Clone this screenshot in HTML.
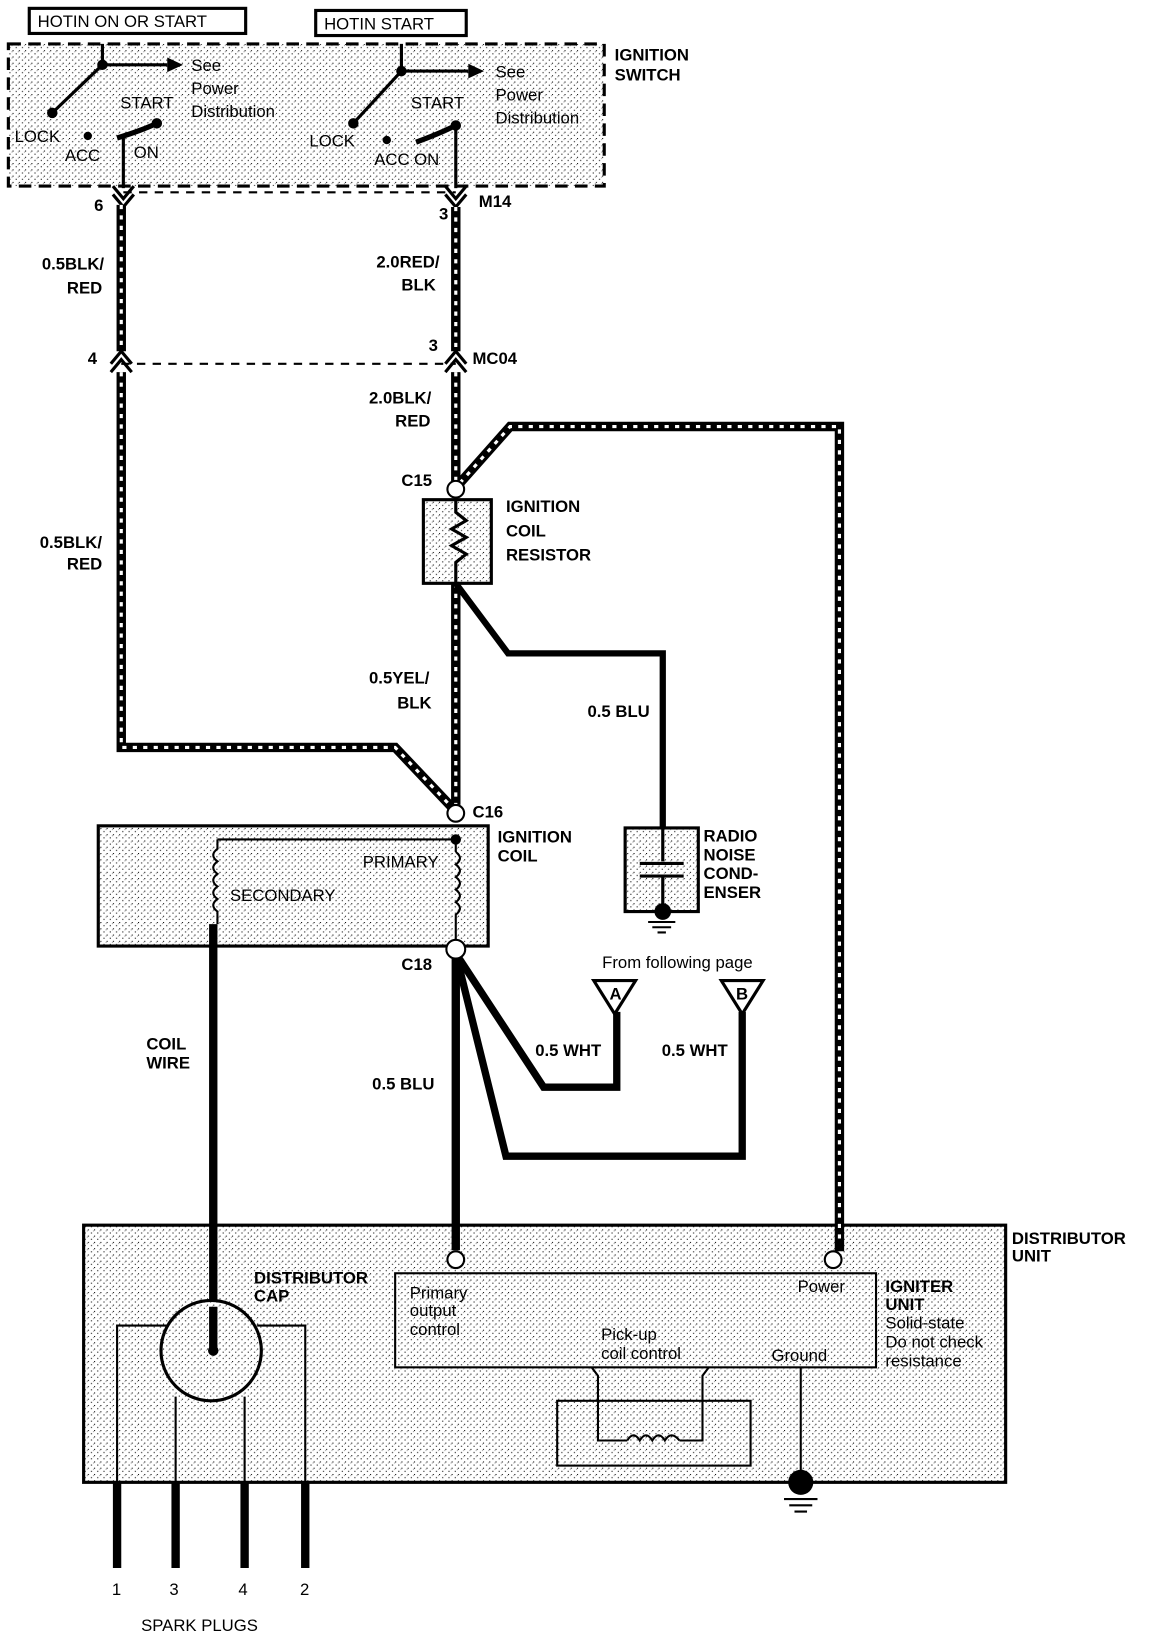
<!DOCTYPE html>
<html><head><meta charset="utf-8"><style>
html,body{margin:0;padding:0;background:#fff}
svg{display:block}
text{font-family:"Liberation Sans",sans-serif;font-weight:bold;font-size:16px;fill:#000}
.n{font-weight:normal}
</style></head><body>
<svg width="1152" height="1636" viewBox="0 0 1102 1565" preserveAspectRatio="none" xmlns="http://www.w3.org/2000/svg">
<defs>
<pattern id="st" width="6" height="6" patternUnits="userSpaceOnUse">
<rect width="6" height="6" fill="#fff"/>
<rect x="0" y="0" width="1" height="1" fill="#000"/>
<rect x="3" y="3" width="1" height="1" fill="#000"/>
<rect x="5" y="1" width="1" height="1" fill="#999"/>
</pattern>
</defs>
<g stroke="#000" fill="none">
<!-- distributor unit (drawn first) -->
<rect x="80" y="1172" width="882" height="246" fill="url(#st)" stroke-width="3"/>
<rect x="378" y="1218" width="460" height="90" fill="url(#st)" stroke-width="2"/>
<rect x="533" y="1340" width="185" height="62" fill="url(#st)" stroke-width="2"/>
<!-- top labels -->
<rect x="28" y="8" width="207" height="24" stroke-width="3"/>
<rect x="302" y="10" width="144" height="24" stroke-width="3"/>
<!-- ignition switch box -->
<rect x="8" y="42" width="570" height="136" fill="url(#st)" stroke-width="3" stroke-dasharray="12 7"/>
<path d="M98 42 V62 H160" stroke-width="3"/>
<path d="M98 62 L50 108" stroke-width="3"/>
<path d="M112 132 Q135 125 150 118" stroke-width="5"/>
<path d="M118 132 V180" stroke-width="3"/>
<path d="M384 42 V68 H448" stroke-width="3"/>
<path d="M384 68 L338 118" stroke-width="3"/>
<path d="M398 136 Q420 128 436 120" stroke-width="5"/>
<path d="M436 120 V180" stroke-width="3"/>
<path d="M118 184 H436" stroke-width="2" stroke-dasharray="8 7"/>
<path d="M116 348 H436" stroke-width="2" stroke-dasharray="8 7"/>
<path d="M108 178 L118 190 L128 178 M108 186 L118 198 L128 186" stroke-width="3"/>
<path d="M426 178 L436 190 L446 178 M426 186 L436 198 L446 186" stroke-width="3"/>
<path d="M106 348 L116 336 L126 348 M106 356 L116 344 L126 356" stroke-width="3"/>
<path d="M426 348 L436 336 L446 348 M426 356 L436 344 L446 356" stroke-width="3"/>
<g stroke-width="9">
<path d="M116 196 V336"/><path d="M116 356 V715 H378 L432 772"/>
<path d="M436 198 V336"/><path d="M436 356 V462"/><path d="M436 558 V770"/>
<path d="M440 462 L488 408 H803 V1197"/>
</g>
<g stroke="#fff" stroke-width="3" stroke-dasharray="4 6">
<path d="M116 196 V336"/><path d="M116 356 V715 H378 L432 772"/>
<path d="M436 198 V336"/><path d="M436 356 V462"/><path d="M436 558 V770"/>
<path d="M440 462 L488 408 H803 V1190"/>
</g>
<rect x="405" y="478" width="65" height="80" fill="url(#st)" stroke-width="3"/>
<path d="M436 474 V490 L446 498 L432 506 L446 514 L432 522 L446 530 L436 538 V558" stroke-width="3"/>
<path d="M436 558 L486 625 H634 V792" stroke-width="6"/>
<rect x="598" y="792" width="70" height="80" fill="url(#st)" stroke-width="3"/>
<path d="M634 792 V824 M612 826 H654 M612 838 H654 M634 838 V872" stroke-width="3"/>
<rect x="94" y="790" width="373" height="115" fill="url(#st)" stroke-width="3"/>
<path d="M208 803 H436 V815" stroke-width="2"/>
<path d="M436 815 q8 6 0 12 q8 6 0 12 q8 6 0 12 q8 6 0 12 q8 6 0 12 V900" stroke-width="2"/>
<path d="M208 803 V812 q-8 6 0 12 q-8 6 0 12 q-8 6 0 12 q-8 6 0 12 q-8 6 0 12 V884" stroke-width="2"/>
<path d="M204 884 V1292" stroke-width="8"/>
<path d="M436 912 V1196" stroke-width="8"/>
<path d="M436 912 L520 1040 H590 V968" stroke-width="7"/>
<path d="M436 912 L484 1106 H710 V968" stroke-width="7"/>
<path d="M568 938 H608 L588 970 Z" fill="#fff" stroke-width="3"/>
<path d="M690 938 H730 L710 970 Z" fill="#fff" stroke-width="3"/>
<path d="M566 1308 L572 1316 V1378 H600 M650 1378 H672 V1316 L678 1308" stroke-width="2"/>
<path d="M600 1378 q6 -10 12 0 q6 -10 12 0 q6 -10 12 0 q6 -10 14 0" stroke-width="2"/>
<path d="M766 1308 V1418" stroke-width="2"/>
<path d="M112 1500 V1268 H160 M246 1268 H292 V1500" stroke-width="2"/>
<path d="M168 1336 V1418 M234 1336 V1418" stroke-width="2"/>
<circle cx="202" cy="1292" r="48" fill="url(#st)" stroke-width="3"/>
<path d="M204 1250 V1292" stroke-width="8"/>
<path d="M112 1418 V1500 M168 1418 V1500 M234 1418 V1500 M292 1418 V1500" stroke-width="8"/>
<path d="M620 882 H646 M624 887 H642 M629 892 H637" stroke-width="2"/>
<path d="M750 1434 H782 M755 1440 H777 M760 1446 H772" stroke-width="2"/>
</g>
<g fill="#000">
<circle cx="98" cy="62" r="5"/><circle cx="50" cy="108" r="5"/><circle cx="84" cy="130" r="4"/><circle cx="150" cy="118" r="5"/>
<circle cx="384" cy="68" r="5"/><circle cx="338" cy="118" r="5"/><circle cx="370" cy="134" r="4"/><circle cx="436" cy="120" r="5"/>
<path d="M160 55 L175 62 L160 69Z"/><path d="M448 61 L463 68 L448 75Z"/>
<circle cx="436" cy="803" r="5"/>
<circle cx="204" cy="1292" r="5"/>
<circle cx="634" cy="872" r="8"/>
<circle cx="766" cy="1418" r="12"/>
</g>
<g fill="#fff" stroke="#000" stroke-width="2">
<circle cx="436" cy="468" r="8"/><circle cx="436" cy="778" r="8"/><circle cx="436" cy="908" r="9"/>
<circle cx="436" cy="1205" r="8"/><circle cx="797" cy="1205" r="8"/>
</g>
<text x="36" y="26" class="n">HOTIN ON OR START</text>
<text x="310" y="28" class="n">HOTIN START</text>
<text x="588" y="58">IGNITION</text><text x="588" y="77">SWITCH</text>
<text x="183" y="68" class="n">See</text><text x="183" y="90" class="n">Power</text><text x="183" y="112" class="n">Distribution</text>
<text x="474" y="74" class="n">See</text><text x="474" y="96" class="n">Power</text><text x="474" y="118" class="n">Distribution</text>
<text x="115" y="104" class="n">START</text><text x="393" y="104" class="n">START</text>
<text x="14" y="136" class="n">LOCK</text><text x="62" y="154" class="n">ACC</text><text x="128" y="151" class="n">ON</text>
<text x="296" y="140" class="n">LOCK</text><text x="358" y="158" class="n">ACC ON</text>
<text x="90" y="202">6</text><text x="420" y="210">3</text><text x="458" y="198">M14</text>
<text x="40" y="258">0.5BLK/</text><text x="64" y="281">RED</text>
<text x="360" y="256">2.0RED/</text><text x="384" y="278">BLK</text>
<text x="84" y="348">4</text><text x="410" y="336">3</text><text x="452" y="348">MC04</text>
<text x="353" y="386">2.0BLK/</text><text x="378" y="408">RED</text>
<text x="384" y="465">C15</text>
<text x="484" y="490">IGNITION</text><text x="484" y="513">COIL</text><text x="484" y="536">RESISTOR</text>
<text x="38" y="524">0.5BLK/</text><text x="64" y="545">RED</text>
<text x="353" y="654">0.5YEL/</text><text x="380" y="678">BLK</text>
<text x="562" y="686">0.5 BLU</text>
<text x="673" y="805">RADIO</text><text x="673" y="823">NOISE</text><text x="673" y="841">COND-</text><text x="673" y="859">ENSER</text>
<text x="452" y="782">C16</text>
<text x="476" y="806">IGNITION</text><text x="476" y="824">COIL</text>
<text x="347" y="830" class="n">PRIMARY</text><text x="220" y="862" class="n">SECONDARY</text>
<text x="384" y="928">C18</text>
<text x="576" y="926" class="n">From following page</text>
<text x="583" y="956" font-size="13">A</text><text x="704" y="956" font-size="13">B</text>
<text x="512" y="1010">0.5 WHT</text><text x="633" y="1010">0.5 WHT</text>
<text x="140" y="1004">COIL</text><text x="140" y="1022">WIRE</text>
<text x="356" y="1042">0.5 BLU</text>
<text x="968" y="1190">DISTRIBUTOR</text><text x="968" y="1207">UNIT</text>
<text x="243" y="1228">DISTRIBUTOR</text><text x="243" y="1245">CAP</text>
<text x="392" y="1242" class="n">Primary</text><text x="392" y="1259" class="n">output</text><text x="392" y="1277" class="n">control</text>
<text x="763" y="1236" class="n">Power</text>
<text x="575" y="1282" class="n">Pick-up</text><text x="575" y="1300" class="n">coil control</text>
<text x="738" y="1302" class="n">Ground</text>
<text x="847" y="1236">IGNITER</text><text x="847" y="1253">UNIT</text>
<text x="847" y="1271" class="n">Solid-state</text><text x="847" y="1289" class="n">Do not check</text><text x="847" y="1307" class="n">resistance</text>
<text x="107" y="1526" class="n">1</text><text x="162" y="1526" class="n">3</text><text x="228" y="1526" class="n">4</text><text x="287" y="1526" class="n">2</text>
<text x="135" y="1560" class="n">SPARK PLUGS</text>
</svg>
</body></html>
